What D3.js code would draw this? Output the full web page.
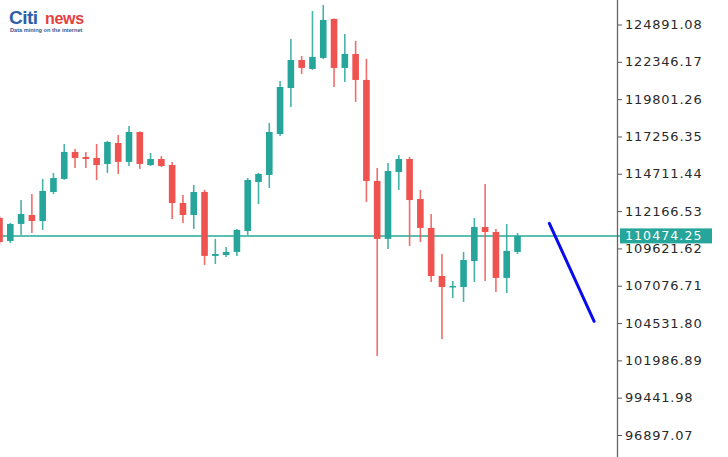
<!DOCTYPE html>
<html><head><meta charset="utf-8">
<script src="https://cdn.jsdelivr.net/npm/d3@7/dist/d3.min.js"></script>
<style>html,body{margin:0;padding:0;background:#fff;overflow:hidden}</style>
</head><body><svg id="c" width="728" height="457"></svg>
<script>
// ---- data ----
const periods = d3.range(1, 50); // candle sequence numbers
const open  = [111700,110130,111290,111900,111490,113470,114360,116200,115860,115790,115380,116810,115520,117560,115310,115720,115310,112720,111900,113470,109110,109170,109380,110810,114150,114630,117420,120560,122470,121860,122610,125270,121930,122880,121110,114220,110270,114830,115720,112990,111020,107740,107060,106990,108760,111080,110740,107610,109380];
const high  = [111830,111360,112920,113330,114360,114770,116740,116400,116200,116740,116950,117360,117970,117600,116130,115920,115520,113270,113950,113610,110270,109720,110950,114420,114770,118170,121040,123900,122740,125810,126220,125300,124240,123770,122540,115110,115450,115990,115860,113610,111970,109240,107400,109380,111700,114010,110950,111290,110670];
const low   = [109860,109990,110540,110670,110880,113330,114300,115110,115110,114290,114770,114700,115240,115040,115240,115170,111630,111360,110950,108490,108560,109040,109110,110540,112650,113740,117290,119270,121520,121800,122540,120630,120970,119610,112790,102290,109580,113610,109790,110060,107330,103450,106240,105970,107330,107400,106650,106580,109240];
const close = [110060,111290,111970,111490,113540,114420,116200,115790,115720,115310,116880,115520,117560,115380,115720,115240,112720,111900,113470,109110,109240,109380,110880,114290,114700,117560,120630,122470,121930,122680,125200,121930,122880,121110,114220,110270,114900,115720,112920,111020,107740,106990,107060,108830,111080,110740,107610,109450,110470];
const tickValues = [124891.08,122346.17,119801.26,117256.35,114711.44,112166.53,109621.62,107076.71,104531.80,101986.89,99441.98,96897.07];
const tickLabels = ["124891.08","122346.17","119801.26","117256.35","114711.44","112166.53","109621.62","107076.71","104531.80","101986.89","99441.98","96897.07"];
const currentPrice = 110474.25;
const currentLabel = "110474.25";
const trendIdx = [50.95, 55.1];
const trendPrice = [111330, 104650];

// ---- drawing ----
const svg = d3.select("#c");
const W = 728, H = 457, axisX = 617;
const x = d3.scaleLinear().domain([0, 48]).range([-0.5, 517.5]);
const y = d3.scaleLinear().domain([124891.08, 96897.07]).range([24.5, 435]);
const up = "#26a69a", down = "#ef5350";
const bodyW = 6.6;

const data = periods.map((p, i) => ({i, o: open[i], h: high[i], l: low[i], c: close[i]}));

// current price line (behind candles)
svg.append("line")
  .attr("x1", 0).attr("x2", axisX + 4)
  .attr("y1", y(currentPrice)).attr("y2", y(currentPrice))
  .attr("stroke", "#5cbfb2").attr("stroke-width", 2);

const g = svg.append("g");
g.selectAll("line.wick").data(data).join("line")
  .attr("class", "wick")
  .attr("x1", d => x(d.i)).attr("x2", d => x(d.i))
  .attr("y1", d => y(d.h)).attr("y2", d => y(d.l))
  .attr("stroke", d => d.c >= d.o ? up : down)
  .attr("stroke-opacity", 0.85)
  .attr("stroke-width", 1.6);
g.selectAll("rect.body").data(data).join("rect")
  .attr("class", "body")
  .attr("x", d => x(d.i) - bodyW / 2)
  .attr("width", bodyW)
  .attr("y", d => y(Math.max(d.o, d.c)))
  .attr("height", d => Math.max(1.5, Math.abs(y(d.o) - y(d.c))))
  .attr("fill", d => d.c >= d.o ? up : down);

// trend line
svg.append("line")
  .attr("x1", x(trendIdx[0])).attr("y1", y(trendPrice[0]))
  .attr("x2", x(trendIdx[1])).attr("y2", y(trendPrice[1]))
  .attr("stroke", "#0a0aee").attr("stroke-width", 3).attr("stroke-linecap", "round");

// right axis
const axis = d3.axisRight(y).tickValues(tickValues).tickSize(5).tickPadding(3)
  .tickFormat((d, i) => tickLabels[i]);
const ax = svg.append("g").attr("transform", `translate(${axisX},0)`).call(axis);
ax.select(".domain").remove();
ax.selectAll(".tick line").attr("stroke", "#555").attr("stroke-width", 1);
ax.selectAll(".tick text")
  .attr("font-family", "DejaVu Sans, sans-serif").attr("font-size", 13)
  .attr("letter-spacing", "0.8px").attr("fill", "#2a2a2a");
svg.append("line").attr("x1", axisX + 0.5).attr("x2", axisX + 0.5).attr("y1", 0).attr("y2", H)
  .attr("stroke", "#666").attr("stroke-width", 1.3);

// current price tag
const cy = y(currentPrice);
svg.append("rect").attr("x", 620).attr("y", cy - 7.5).attr("width", 92).attr("height", 15)
  .attr("fill", "#26a69a");
svg.append("text").attr("x", 625).attr("y", cy - 0.5).attr("dy", "0.34em")
  .attr("font-family", "DejaVu Sans, sans-serif").attr("font-size", 12.5)
  .attr("letter-spacing", "1.1px").attr("fill", "#fff").text(currentLabel);

// logo
const logo = svg.append("g");
logo.append("text").attr("x", 9).attr("y", 24)
  .attr("font-family", "Liberation Sans, Arial, sans-serif").attr("font-weight", "bold")
  .attr("font-size", 19).attr("fill", "#2d5ea8").attr("letter-spacing", "-0.5px").text("Citi");
logo.append("text").attr("x", 45).attr("y", 24)
  .attr("font-family", "Liberation Sans, Arial, sans-serif").attr("font-weight", "bold")
  .attr("font-size", 16).attr("fill", "#e5403e").attr("letter-spacing", "-0.3px").text("news");
logo.append("text").attr("x", 10).attr("y", 32)
  .attr("font-family", "Liberation Sans, Arial, sans-serif").attr("font-weight", "bold")
  .attr("font-size", 5.6).attr("fill", "#3a5a8e").text("Data mining on the internet");
</script></body></html>
